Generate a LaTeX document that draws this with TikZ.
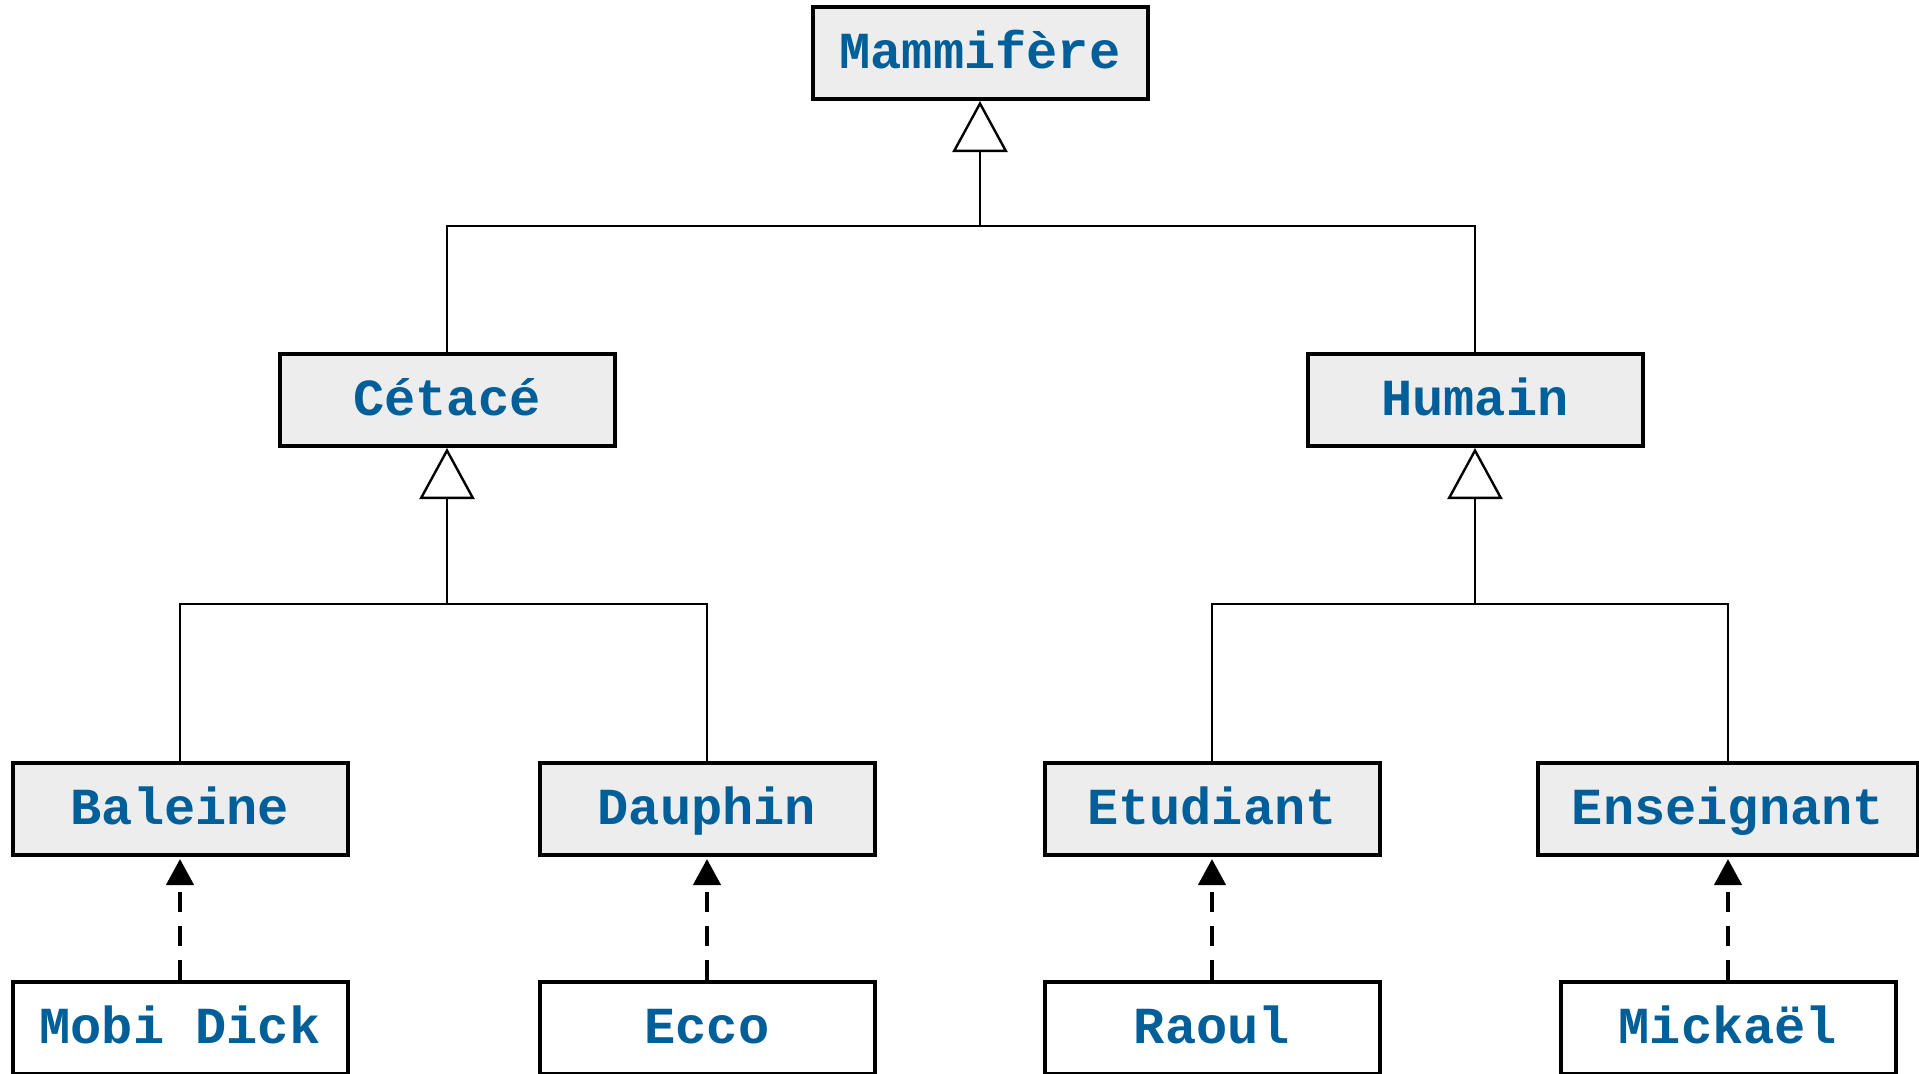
\documentclass[tikz,border=0pt]{standalone}
\usepackage{fontspec}
\setmonofont{Liberation Mono}
\usetikzlibrary{positioning,arrows.meta}
\definecolor{nomclasse}{HTML}{005F99}
\definecolor{fondclasse}{HTML}{EDEDED}

\begin{document}
\begin{tikzpicture}[x=0.5pt,y=-0.5pt]
	\tikzset{classe/.style={draw,line width=2pt,fill=fondclasse,minimum width=167.5pt,minimum height=46pt,inner sep=0pt,text height=20pt,text depth=5pt,text=nomclasse,font=\ttfamily\bfseries\fontsize{26}{30}\selectfont},
		objet/.style={classe,fill=white},
		herite/.style={line width=1pt,-{Triangle[open,fill=white,width=27.5pt,length=25.5pt,line width=1.2pt]}},
		instance/.style={line width=2.2pt,dash pattern=on 10pt off 7pt,-{Triangle[width=13.5pt,length=13pt]},shorten >=1pt}}
	\useasboundingbox (0,0) rectangle (1919,1073);
	\node[classe] (mammifere) at (980,53) {Mammifère};
	\node[classe] (cetace) at (447,400) {Cétacé};
	\node[classe] (humain) at (1475,400) {Humain};
	\node[classe] (baleine) at (180,809) {Baleine};
	\node[classe] (dauphin) at (707,809) {Dauphin};
	\node[classe] (etudiant) at (1212,809) {Etudiant};
	\node[classe,minimum width=190pt] (enseignant) at (1728,809) {Enseignant};
	\node[objet] (mobidick) at (180,1028) {Mobi Dick};
	\node[objet] (ecco) at (707,1028) {Ecco};
	\node[objet] (raoul) at (1212,1028) {Raoul};
	\node[objet] (mickael) at (1728,1028) {Mickaël};
	\coordinate (jm) at (980,226);
	\coordinate (jc) at (447,604);
	\coordinate (jh) at (1475,604);
	\draw[herite] (cetace.north) |- (jm) -- (mammifere.south);
	\draw[line width=1pt] (humain.north) |- (jm);
	\draw[herite] (baleine.north) |- (jc) -- (cetace.south);
	\draw[line width=1pt] (dauphin.north) |- (jc);
	\draw[herite] (etudiant.north) |- (jh) -- (humain.south);
	\draw[line width=1pt] (enseignant.north) |- (jh);
	\path[instance]
		(mobidick) edge (baleine)
		(ecco) edge (dauphin)
		(raoul) edge (etudiant)
		(mickael) edge (enseignant);
\end{tikzpicture}
\end{document}
